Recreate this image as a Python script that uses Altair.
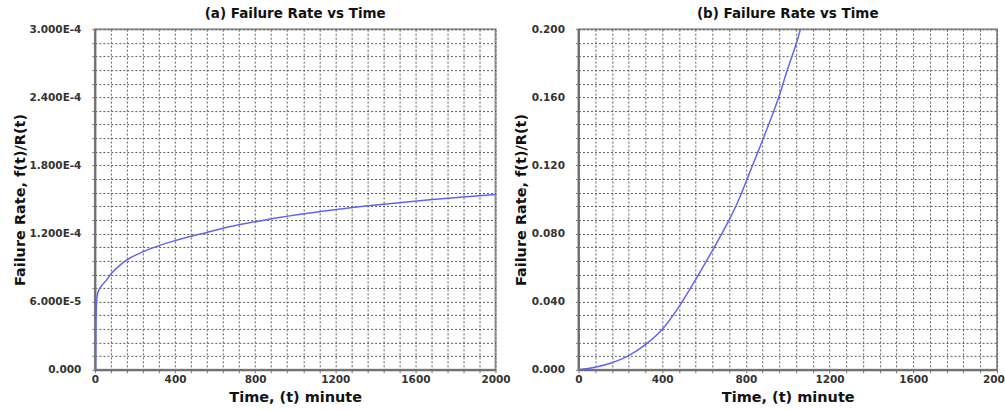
import altair as alt
import pandas as pd

# ---- data ----
time_a = [4, 5, 8, 13, 33, 58, 83, 124, 162, 240, 320, 400, 480, 560, 677, 843,
          1009, 1175, 1340, 1506, 1672, 1838, 2000]
rate_a = [0.0, 3.5e-5, 5.8e-5, 6.7e-5, 7.4e-5, 7.9e-5, 8.5e-5, 9.2e-5, 9.7e-5,
          1.04e-4, 1.094e-4, 1.138e-4, 1.177e-4, 1.21e-4, 1.262e-4, 1.318e-4,
          1.365e-4, 1.405e-4, 1.44e-4, 1.47e-4, 1.497e-4, 1.522e-4, 1.545e-4]

time_b = [0, 80, 160, 240, 320, 400, 480, 560, 640, 720, 766, 806, 858, 909,
          957, 998, 1042, 1061, 1075]
rate_b = [0.0, 0.0015, 0.0042, 0.0083, 0.0148, 0.0237, 0.037, 0.053, 0.070, 0.088,
          0.0999, 0.112, 0.128, 0.144, 0.160, 0.176, 0.192, 0.200, 0.206]

x_tick_values = [0, 400, 800, 1200, 1600, 2000]
x_tick_labels = ["0", "400", "800", "1200", "1600", "2000"]
x_grid_values = list(range(0, 2001, 80))

ya_tick_values = [0.0, 6e-5, 1.2e-4, 1.8e-4, 2.4e-4, 3e-4]
ya_tick_labels = ["0.000", "6.000E-5", "1.200E-4", "1.800E-4", "2.400E-4", "3.000E-4"]
ya_grid_values = [round(i * 1.2e-5, 10) for i in range(26)]

yb_tick_values = [0.0, 0.04, 0.08, 0.12, 0.16, 0.2]
yb_tick_labels = ["0.000", "0.040", "0.080", "0.120", "0.160", "0.200"]
yb_grid_values = [round(i * 0.008, 6) for i in range(26)]

panel_titles = ["(a) Failure Rate vs Time", "(b) Failure Rate vs Time"]
x_title = "Time, (t) minute"
y_title = "Failure Rate, f(t)/R(t)"

FONT = "DejaVu Sans"
LINE_COLOR = "#6464f0"


def label_expr(values, labels, tol):
    parts = [f"abs(datum.value - ({v})) < {tol} ? '{l}'" for v, l in zip(values, labels)]
    return " : ".join(parts) + " : ''"


def panel(df, title, ydomain, ygrid, yexpr, width, lab_pad, title_pad):
    x = alt.X(
        "t:Q",
        scale=alt.Scale(domain=[0, 2000], nice=False, zero=False),
        axis=alt.Axis(
            values=x_grid_values,
            labelExpr=label_expr(x_tick_values, x_tick_labels, 0.5),
            labelOverlap=False,
            labelFlush=False,
            title=x_title,
            labelPadding=2,
            titlePadding=5,
        ),
    )
    y = alt.Y(
        "h:Q",
        scale=alt.Scale(domain=ydomain, nice=False, zero=False),
        axis=alt.Axis(
            values=ygrid,
            labelExpr=yexpr,
            labelOverlap=False,
            labelFlush=False,
            title=y_title,
            labelPadding=lab_pad,
            titlePadding=title_pad,
        ),
    )
    return (
        alt.Chart(df, title=alt.Title(title))
        .mark_line(color=LINE_COLOR, strokeWidth=1.5, clip=True, interpolate="monotone")
        .encode(x=x, y=y)
        .properties(width=width, height=341)
    )


df_a = pd.DataFrame({"t": time_a, "h": rate_a})
df_b = pd.DataFrame({"t": time_b, "h": rate_b})

chart_a = panel(df_a, panel_titles[0], [0, 3e-4], ya_grid_values,
                label_expr(ya_tick_values, ya_tick_labels, 1e-9), 401, 11, 1)
chart_b = panel(df_b, panel_titles[1], [0, 0.2], yb_grid_values,
                label_expr(yb_tick_values, yb_tick_labels, 1e-6), 419, 11, 3)

chart = (
    alt.hconcat(chart_a, chart_b, spacing=0)
    .properties(padding={"left": 11, "top": 5, "right": -8, "bottom": 5})
    .configure_view(stroke="#9a9a9a", strokeWidth=2)
    .configure_axis(
        domainColor="#6e6e6e",
        domainWidth=2,
        gridColor="#5a5a5a",
        gridDash=[2, 2],
        gridWidth=1,
        gridOpacity=1,
        tickColor="#777777",
        tickSize=3,
        labelFont=FONT,
        labelFontSize=10.5,
        labelFontWeight="bold",
        labelColor="#333333",
        titleFont=FONT,
        titleFontSize=14.5,
        titleFontWeight="bold",
        titleColor="#111111",
    )
    .configure_title(
        font=FONT,
        fontSize=13.5,
        fontWeight="bold",
        color="#111111",
        anchor="middle",
        offset=4,
    )
)

chart.save("out.html", embed_options={"renderer": "svg", "actions": False})
